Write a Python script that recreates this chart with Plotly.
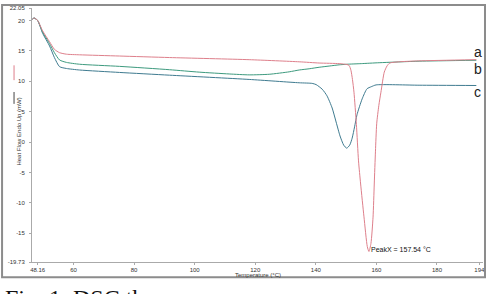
import plotly.graph_objects as go

# ---- data ----
temp_a = [46.4, 47.0, 48.16, 49.8, 52.1, 53.7, 55.4, 57.7, 62.0, 75.2, 91.7, 118.0, 134.5,
          141.1, 147.7, 150.3, 151.0, 151.6, 152.1, 152.6, 153.4, 154.1, 154.8, 155.9, 157.0,
          157.54, 158.2, 158.9, 159.3, 159.7, 160.1, 160.8, 161.5, 162.6, 163.5, 164.4,
          167.6, 174.0, 193.0]
hf_a = [20.2, 20.4, 20.0, 18.3, 16.5, 15.25, 14.7, 14.45, 14.35, 14.15, 13.9, 13.55, 13.2,
        13.0, 12.9, 12.75, 12.6, 11.8, 10.3, 8.2, 2.9, -3.1, -6.9, -12.3, -17.2,
        -18.0, -16.7, -12.35, -6.9, -1.5, 3.0, 6.0, 8.2, 11.5, 12.5, 13.0,
        13.2, 13.35, 13.55]

temp_b = [46.4, 47.0, 48.16, 49.8, 52.1, 53.7, 55.4, 57.7, 62.0, 75.2, 91.7, 101.5, 111.4,
          118.0, 124.6, 131.2, 134.5, 137.8, 141.1, 144.4, 147.7, 150.3, 155.0, 160.9,
          174.1, 193.0]
hf_b = [20.2, 20.4, 20.0, 18.1, 16.2, 14.7, 13.5, 13.1, 12.8, 12.45, 11.9, 11.5, 11.2,
        11.05, 11.15, 11.55, 11.85, 12.05, 12.3, 12.5, 12.7, 12.8, 12.9, 13.05,
        13.3, 13.45]

temp_c = [46.4, 47.0, 48.16, 49.8, 52.1, 53.7, 55.4, 57.7, 62.0, 75.2, 91.7, 118.0, 134.5,
          138.8, 140.1, 142.1, 143.7, 145.4, 146.7, 148.0, 149.2, 150.2, 151.2, 152.0,
          152.8, 153.6, 155.3, 156.9, 158.3, 159.9, 174.1, 193.0]
hf_c = [20.2, 20.4, 20.0, 17.9, 15.8, 13.9, 12.4, 12.1, 11.85, 11.45, 11.0, 10.3, 9.75,
        9.65, 9.45, 8.7, 7.6, 5.6, 3.3, 1.0, -0.5, -1.0, -0.5, 0.64,
        2.5, 4.5, 7.1, 8.76, 9.1, 9.4, 9.35, 9.3]

x_ticks = [48.16, 60, 80, 100, 120, 140, 160, 180, 194]
x_ticktext = ["48.16", "60", "80", "100", "120", "140", "160", "180", "194"]
y_ticks = [-19.73, -15, -10, -5, 0, 5, 10, 15, 20, 22.05]
y_ticktext = ["-19.73", "-15", "-10", "-5", "0", "5", "10", "15", "20", "22.05"]

peak_x = 157.54
peak_label = "PeakX = 157.54 °C"
series_labels = ["a", "b", "c"]

col_a = "#de7f8b"
col_b = "#3d9a7e"
col_c = "#3f7b90"

fig = go.Figure()
for t, h, col in [(temp_c, hf_c, col_c), (temp_b, hf_b, col_b), (temp_a, hf_a, col_a)]:
    fig.add_trace(go.Scatter(x=t, y=h, mode="lines",
                             line=dict(color=col, width=1, shape="spline", smoothing=0.6),
                             showlegend=False, hoverinfo="skip"))

tickfont = dict(family="Liberation Sans, Arial, sans-serif", size=6, color="#333")

fig.update_layout(
    width=490, height=294,
    margin=dict(l=32, r=6, t=5, b=32),
    paper_bgcolor="white", plot_bgcolor="white",
    xaxis=dict(range=[46.3, 195.2], tickvals=x_ticks, ticktext=x_ticktext,
               showgrid=False, zeroline=False, showline=True, linecolor="#aaa",
               linewidth=1, ticks="outside", ticklen=2, tickcolor="#aaa",
               tickfont=tickfont),
    yaxis=dict(range=[-19.73, 22.05], tickvals=y_ticks, ticktext=y_ticktext,
               showgrid=False, zeroline=False, showline=True, linecolor="#aaa",
               linewidth=1, ticks="outside", ticklen=2, tickcolor="#aaa",
               tickfont=tickfont, ticklabelstandoff=3),
)

def px_x(p):
    return (p - 32) / 452.0

def px_y(p):
    return (262 - p) / 257.0

# outer frame
fig.add_shape(type="rect", xref="paper", yref="paper",
              x0=px_x(2), x1=px_x(486), y0=px_y(277.5), y1=px_y(2),
              line=dict(color="#8c8c8c", width=2), fillcolor="rgba(0,0,0,0)")

# y-axis title with small legend strokes
fig.add_annotation(xref="paper", yref="paper", x=px_x(14), y=px_y(130),
                   text="Heat Flow Endo Up (mW)", textangle=-90, showarrow=False,
                   font=dict(family="Liberation Sans, Arial, sans-serif", size=6, color="#333"))
fig.add_shape(type="line", xref="paper", yref="paper", x0=px_x(14), x1=px_x(14),
              y0=px_y(63), y1=px_y(78), line=dict(color=col_a, width=1))
fig.add_shape(type="line", xref="paper", yref="paper", x0=px_x(14), x1=px_x(14),
              y0=px_y(90), y1=px_y(102), line=dict(color="#444", width=1))

# x-axis title
fig.add_annotation(xref="paper", yref="paper", x=px_x(258), y=px_y(275.5),
                   text="Temperature (°C)", showarrow=False, yanchor="middle",
                   font=dict(family="Liberation Sans, Arial, sans-serif", size=6, color="#333"))

# series labels
for lab, py in zip(series_labels, [50, 66.5, 89.5]):
    fig.add_annotation(xref="paper", yref="paper", x=px_x(478.5), y=px_y(py),
                       text=lab, showarrow=False, xanchor="center", yanchor="middle",
                       font=dict(family="Liberation Sans, Arial, sans-serif", size=14, color="#222"))

# peak annotation
fig.add_annotation(x=peak_x, y=-17.6, xref="x", yref="y", text=peak_label,
                   showarrow=False, xanchor="left", yanchor="middle",
                   font=dict(family="Liberation Sans, Arial, sans-serif", size=7, color="#111"))

# caption (cut off at bottom in the reference, only its upper part visible)
fig.add_annotation(xref="paper", yref="paper", x=px_x(3), y=px_y(283),
                   text="Fig. 1. DSC thermograms", showarrow=False,
                   xanchor="left", yanchor="top",
                   font=dict(family="Liberation Serif, Times New Roman, serif", size=24, color="#111"))

fig.write_html("out.html")
